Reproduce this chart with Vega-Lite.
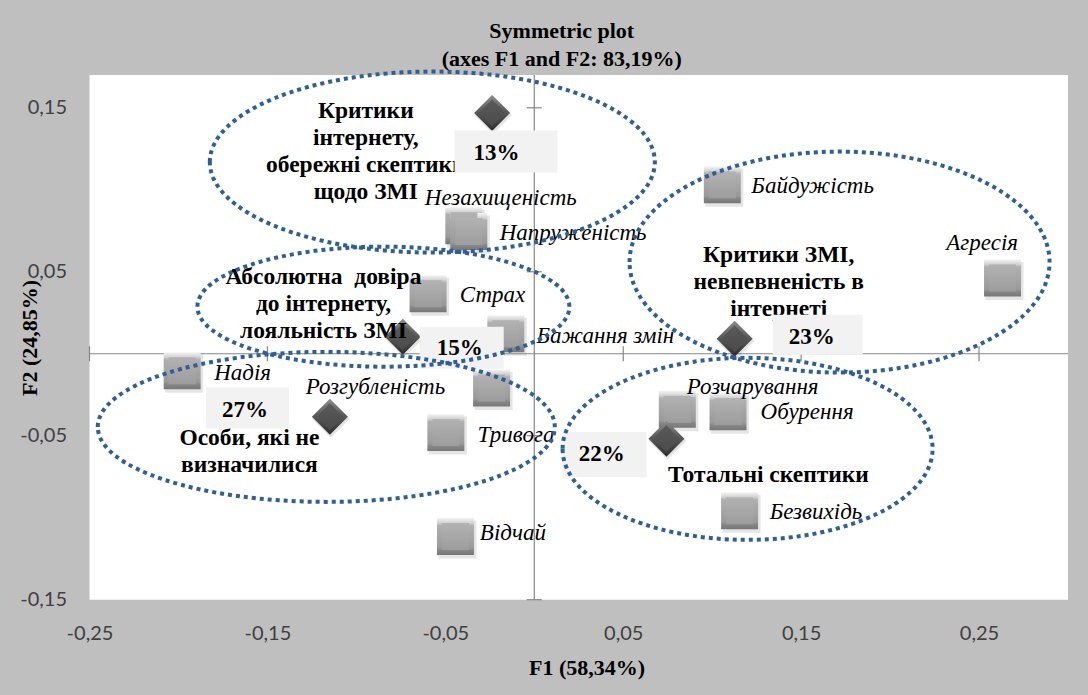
{
  "$schema": "https://vega.github.io/schema/vega-lite/v6.json",
  "autosize": {"type": "none"},
  "width": 978.5,
  "height": 524.7,
  "padding": {"left": 89.5, "top": 75, "right": 20, "bottom": 95.3},
  "background": "#bfbfbf",
  "config": {
    "view": {"fill": "white", "stroke": null},
    "axis": {"domain": false, "ticks": false, "grid": false, "labelFlush": false, "labelOverlap": false,
      "labelFont": "Lato", "labelFontSize": 20, "labelColor": "#404040",
      "titleFont": "Liberation Serif", "titleFontWeight": "bold", "titleFontSize": 22, "titleColor": "black"}
  },
  "resolve": {"scale": {"shape": "independent"}},
  "title": {
    "text": ["Symmetric plot", "(axes F1 and F2: 83,19%)"],
    "font": "Liberation Serif",
    "fontSize": 22,
    "fontWeight": "bold",
    "color": "black",
    "anchor": "middle",
    "frame": "group",
    "dx": -17,
    "lineHeight": 28,
    "offset": -7
  },
  "datasets": {
    "cats": [
      {"name": "Незахищеність", "x": -0.0396, "y": 0.0781, "lx": -0.0615, "ly": 0.0951},
      {"name": "Напруженість", "x": -0.0368, "y": 0.0745, "lx": -0.0194, "ly": 0.0737},
      {"name": "Страх", "x": -0.0597, "y": 0.0366, "lx": -0.0419, "ly": 0.0360},
      {"name": "Бажання змін", "x": -0.0160, "y": 0.0122, "lx": 0.0012, "ly": 0.0106},
      {"name": "Байдужість", "x": 0.1057, "y": 0.1030, "lx": 0.1220, "ly": 0.1021},
      {"name": "Агресія", "x": 0.2632, "y": 0.0462, "lx": 0.2316, "ly": 0.0676},
      {"name": "Надія", "x": -0.1979, "y": -0.0104, "lx": -0.1799, "ly": -0.0118},
      {"name": "Розгубленість", "x": -0.0240, "y": -0.0209, "lx": -0.1285, "ly": -0.0200},
      {"name": "Тривога", "x": -0.0497, "y": -0.0481, "lx": -0.0319, "ly": -0.0495},
      {"name": "Відчай", "x": -0.0443, "y": -0.1115, "lx": -0.0306, "ly": -0.1095},
      {"name": "Розчарування", "x": 0.0804, "y": -0.0339, "lx": 0.0857, "ly": -0.0200},
      {"name": "Обурення", "x": 0.1089, "y": -0.0353, "lx": 0.1272, "ly": -0.0358},
      {"name": "Безвихідь", "x": 0.1154, "y": -0.0958, "lx": 0.1323, "ly": -0.0966}
    ],
    "clusters": [
      {"name": "13%", "x": -0.0237, "y": 0.1469, "lx": -0.0212, "ly": 0.1227},
      {"name": "15%", "x": -0.0739, "y": 0.0104, "lx": -0.0419, "ly": 0.0037},
      {"name": "23%", "x": 0.1126, "y": 0.0092, "lx": 0.1559, "ly": 0.0104},
      {"name": "27%", "x": -0.1149, "y": -0.0385, "lx": -0.1626, "ly": -0.0346},
      {"name": "22%", "x": 0.0743, "y": -0.0518, "lx": 0.0379, "ly": -0.0611}
    ],
    "groups": [
      {"text": "Критики\nінтернету,\nобережні скептики\nщодо ЗМІ", "x": -0.0947, "y": 0.1479},
      {"text": "Абсолютна\u00a0 довіра\nдо інтернету,\nлояльність ЗМІ", "x": -0.1185, "y": 0.0468},
      {"text": "Критики ЗМІ,\nневпевненість в\nінтернеті", "x": 0.1374, "y": 0.0604},
      {"text": "Особи, які не\nвизначилися", "x": -0.1601, "y": -0.0515},
      {"text": "Тотальні скептики", "x": 0.1316, "y": -0.0739}
    ],
    "ellipses": [
      {"name": "E1", "x": -0.0573, "y": 0.1169},
      {"name": "E2", "x": -0.0848, "y": 0.0287},
      {"name": "E3", "x": 0.1716, "y": 0.0559},
      {"name": "E4", "x": -0.1169, "y": -0.0446},
      {"name": "E5", "x": 0.1199, "y": -0.0580}
    ],
    "xt": [{"v": -0.25}, {"v": -0.15}, {"v": -0.05}, {"v": 0.05}, {"v": 0.15}, {"v": 0.25}],
    "yt": [{"v": -0.15}, {"v": -0.05}, {"v": 0.05}, {"v": 0.15}]
  },
  "layer": [
    {
      "data": {"name": "cats"},
      "mark": {"type": "point", "shape": "M -17 -16 H 21 V 22 H -17 Z", "size": 4, "filled": true, "fill": "#000000", "opacity": 0.1, "strokeWidth": 0},
      "encoding": {
        "x": {"field": "x", "type": "quantitative", "scale": {"domain": [-0.25, 0.3], "nice": false, "zero": false},
          "axis": {"values": [-0.25, -0.15, -0.05, 0.05, 0.15, 0.25],
            "labelExpr": "(datum.value < 0 ? '-' : '') + replace(format(abs(datum.value), '.2f'), '.', ',')",
            "labelPadding": 24, "title": "F1 (58,34%)", "titleX": 497, "titleY": 68, "titleBaseline": "middle"}},
        "y": {"field": "y", "type": "quantitative", "scale": {"domain": [-0.15, 0.17], "nice": false, "zero": false},
          "axis": {"values": [-0.15, -0.05, 0.05, 0.15],
            "labelExpr": "(datum.value < 0 ? '-' : '') + replace(format(abs(datum.value), '.2f'), '.', ',')",
            "labelPadding": 23, "title": "F2 (24,85%)", "titleX": -60, "titleBaseline": "middle", "titleAngle": 270}}
      }
    },
    {
      "data": {"values": [{}]},
      "mark": {"type": "rule", "color": "#868686", "strokeWidth": 1.2},
      "encoding": {
        "y": {"datum": 0, "type": "quantitative", "scale": {"domain": [-0.15, 0.17], "nice": false, "zero": false}}
      }
    },
    {
      "data": {"values": [{}]},
      "mark": {"type": "rule", "color": "#868686", "strokeWidth": 1.2},
      "encoding": {
        "x": {"datum": 0, "type": "quantitative", "scale": {"domain": [-0.25, 0.3], "nice": false, "zero": false}}
      }
    },
    {
      "data": {"name": "xt"},
      "mark": {"type": "tick", "orient": "vertical", "size": 15, "thickness": 1.2, "color": "#868686", "opacity": 1},
      "encoding": {
        "x": {"field": "v", "type": "quantitative", "scale": {"domain": [-0.25, 0.3], "nice": false, "zero": false}},
        "y": {"datum": 0, "type": "quantitative", "scale": {"domain": [-0.15, 0.17], "nice": false, "zero": false}}
      }
    },
    {
      "data": {"name": "yt"},
      "mark": {"type": "tick", "orient": "horizontal", "size": 15, "thickness": 1.2, "color": "#868686", "opacity": 1},
      "encoding": {
        "y": {"field": "v", "type": "quantitative", "scale": {"domain": [-0.15, 0.17], "nice": false, "zero": false}},
        "x": {"datum": 0, "type": "quantitative", "scale": {"domain": [-0.25, 0.3], "nice": false, "zero": false}}
      }
    },
    {
      "data": {"name": "cats"},
      "mark": {
        "type": "point", "shape": "square", "size": 1369, "filled": true, "opacity": 1, "strokeWidth": 0,
        "fill": {"gradient": "linear", "x1": 0, "y1": 0, "x2": 0, "y2": 1, "stops": [
          {"offset": 0, "color": "#f4f4f4"}, {"offset": 0.13, "color": "#d2d2d2"}, {"offset": 0.2, "color": "#b0b0b0"},
          {"offset": 0.8, "color": "#9a9a9a"}, {"offset": 0.87, "color": "#868686"}, {"offset": 1, "color": "#777777"}]}
      },
      "encoding": {
        "x": {"field": "x", "type": "quantitative", "scale": {"domain": [-0.25, 0.3], "nice": false, "zero": false}},
        "y": {"field": "y", "type": "quantitative", "scale": {"domain": [-0.15, 0.17], "nice": false, "zero": false}}
      }
    },
    {
      "data": {"name": "cats"},
      "mark": {
        "type": "point", "shape": "square", "size": 729, "filled": true, "opacity": 1, "strokeWidth": 0,
        "fill": {"gradient": "linear", "x1": 0, "y1": 0, "x2": 0, "y2": 1, "stops": [
          {"offset": 0, "color": "#b2b2b2"}, {"offset": 1, "color": "#9d9d9d"}]}
      },
      "encoding": {
        "x": {"field": "x", "type": "quantitative", "scale": {"domain": [-0.25, 0.3], "nice": false, "zero": false}},
        "y": {"field": "y", "type": "quantitative", "scale": {"domain": [-0.15, 0.17], "nice": false, "zero": false}}
      }
    },
    {
      "data": {"name": "clusters"},
      "mark": {"type": "point", "shape": "M 1 -17 L 20 2 L 1 21 L -18 2 Z", "size": 4, "filled": true, "fill": "#000000", "opacity": 0.1, "strokeWidth": 0},
      "encoding": {
        "x": {"field": "x", "type": "quantitative", "scale": {"domain": [-0.25, 0.3], "nice": false, "zero": false}},
        "y": {"field": "y", "type": "quantitative", "scale": {"domain": [-0.15, 0.17], "nice": false, "zero": false}}
      }
    },
    {
      "data": {"name": "clusters"},
      "mark": {
        "type": "point", "shape": "diamond", "size": 1296, "filled": true, "opacity": 1, "strokeWidth": 0,
        "fill": {"gradient": "linear", "x1": 0, "y1": 0, "x2": 0, "y2": 1, "stops": [
          {"offset": 0, "color": "#8c8c8c"}, {"offset": 0.45, "color": "#5c5c5c"}, {"offset": 1, "color": "#2c2c2c"}]}
      },
      "encoding": {
        "x": {"field": "x", "type": "quantitative", "scale": {"domain": [-0.25, 0.3], "nice": false, "zero": false}},
        "y": {"field": "y", "type": "quantitative", "scale": {"domain": [-0.15, 0.17], "nice": false, "zero": false}}
      }
    },
    {
      "data": {"name": "clusters"},
      "mark": {
        "type": "point", "shape": "diamond", "size": 729, "filled": true, "opacity": 1, "strokeWidth": 0,
        "fill": {"gradient": "linear", "x1": 0, "y1": 0, "x2": 0, "y2": 1, "stops": [
          {"offset": 0, "color": "#5a5a5a"}, {"offset": 1, "color": "#4a4a4a"}]}
      },
      "encoding": {
        "x": {"field": "x", "type": "quantitative", "scale": {"domain": [-0.25, 0.3], "nice": false, "zero": false}},
        "y": {"field": "y", "type": "quantitative", "scale": {"domain": [-0.15, 0.17], "nice": false, "zero": false}}
      }
    },
    {
      "data": {"name": "cats"},
      "mark": {"type": "text", "align": "left", "baseline": "middle", "font": "Liberation Serif", "fontStyle": "italic", "fontSize": 23, "color": "black"},
      "encoding": {
        "x": {"field": "lx", "type": "quantitative", "scale": {"domain": [-0.25, 0.3], "nice": false, "zero": false}},
        "y": {"field": "ly", "type": "quantitative", "scale": {"domain": [-0.15, 0.17], "nice": false, "zero": false}},
        "text": {"field": "name", "type": "nominal"}
      }
    },
    {
      "data": {"name": "groups"},
      "mark": {"type": "text", "align": "center", "baseline": "middle", "font": "Liberation Serif", "fontWeight": "bold", "fontSize": 23.5, "lineHeight": 27, "lineBreak": "\n", "color": "black"},
      "encoding": {
        "x": {"field": "x", "type": "quantitative", "scale": {"domain": [-0.25, 0.3], "nice": false, "zero": false}},
        "y": {"field": "y", "type": "quantitative", "scale": {"domain": [-0.15, 0.17], "nice": false, "zero": false}},
        "text": {"field": "text", "type": "nominal"}
      }
    },
    {
      "data": {"name": "clusters"},
      "mark": {"type": "point", "size": 4, "filled": true, "fill": "#f2f2f2", "opacity": 1, "strokeWidth": 0},
      "encoding": {
        "x": {"field": "lx", "type": "quantitative", "scale": {"domain": [-0.25, 0.3], "nice": false, "zero": false}},
        "y": {"field": "ly", "type": "quantitative", "scale": {"domain": [-0.15, 0.17], "nice": false, "zero": false}},
        "shape": {"field": "name", "type": "nominal", "legend": null, "scale": {
          "domain": ["13%", "15%", "23%", "27%", "22%"],
          "range": ["M -42 -22 H 61 V 20 H -42 Z", "M -40 -21 H 44 V 21 H -40 Z", "M -39 -22 H 51 V 18 H -39 Z", "M -39 -23 H 44 V 18 H -39 Z", "M -39 -22 H 45 V 23 H -39 Z"]}}
      }
    },
    {
      "data": {"name": "clusters"},
      "mark": {"type": "text", "align": "center", "baseline": "middle", "font": "Liberation Serif", "fontWeight": "bold", "fontSize": 23, "color": "black"},
      "encoding": {
        "x": {"field": "lx", "type": "quantitative", "scale": {"domain": [-0.25, 0.3], "nice": false, "zero": false}},
        "y": {"field": "ly", "type": "quantitative", "scale": {"domain": [-0.15, 0.17], "nice": false, "zero": false}},
        "text": {"field": "name", "type": "nominal"}
      }
    },
    {
      "data": {"name": "ellipses"},
      "mark": {"type": "point", "size": 4, "filled": false, "stroke": "#2f5f94", "strokeWidth": 4, "strokeDash": [4, 4], "opacity": 1},
      "encoding": {
        "x": {"field": "x", "type": "quantitative", "scale": {"domain": [-0.25, 0.3], "nice": false, "zero": false}},
        "y": {"field": "y", "type": "quantitative", "scale": {"domain": [-0.15, 0.17], "nice": false, "zero": false}},
        "shape": {"field": "name", "type": "nominal", "legend": null, "scale": {
          "domain": ["E1", "E2", "E3", "E4", "E5"],
          "range": [
            "M -222.5 0 C -222.5 -50 -122.9 -90.5 0 -90.5 C 122.9 -90.5 222.5 -50 222.5 0 C 222.5 50 122.9 90.5 0 90.5 C -122.9 90.5 -222.5 50 -222.5 0 Z",
            "M -186 0 C -186 -33.1 -102.7 -60 0 -60 C 102.7 -60 186 -33.1 186 0 C 186 33.1 102.7 60 0 60 C -102.7 60 -186 33.1 -186 0 Z",
            "M -210 0 C -210 -61 -116 -110.5 0 -110.5 C 116 -110.5 210 -61 210 0 C 210 61 116 110.5 0 110.5 C -116 110.5 -210 61 -210 0 Z",
            "M -228.5 0 C -228.5 -41.4 -126.2 -75 0 -75 C 126.2 -75 228.5 -41.4 228.5 0 C 228.5 41.4 126.2 75 0 75 C -126.2 75 -228.5 41.4 -228.5 0 Z",
            "M -185 0 C -185 -50.3 -102.2 -91 0 -91 C 102.2 -91 185 -50.3 185 0 C 185 50.3 102.2 91 0 91 C -102.2 91 -185 50.3 -185 0 Z"]}}
      }
    }
  ]
}
